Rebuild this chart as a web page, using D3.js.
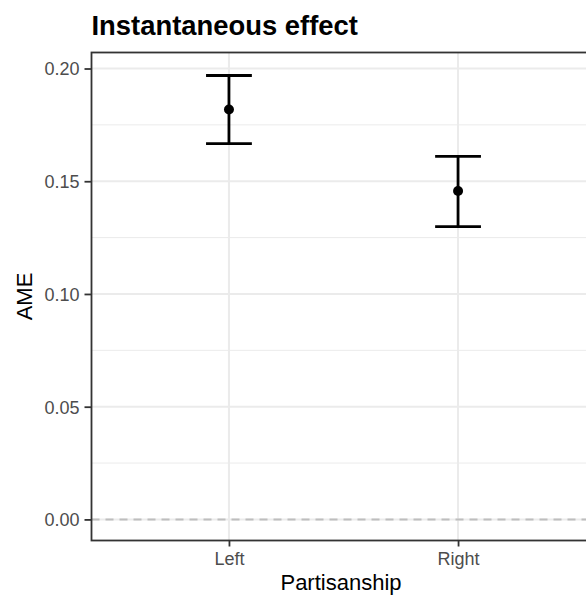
<!DOCTYPE html>
<html><head><meta charset="utf-8">
<script src="https://cdn.jsdelivr.net/npm/d3@7"></script>
<style>body{margin:0;background:#fff}svg{display:block;font-family:"Liberation Sans",Arial,Helvetica,sans-serif}</style>
</head><body><svg id="c" width="586" height="597"></svg>
<script>
const categories = ["Left", "Right"];
const estimates = [0.1818, 0.1457];
const lowers = [0.1667, 0.1299];
const uppers = [0.1969, 0.1610];
const yTicks = [0.00, 0.05, 0.10, 0.15, 0.20];
const yMinor = [0.025, 0.075, 0.125, 0.175];
const title = "Instantaneous effect";
const xTitle = "Partisanship";
const yTitle = "AME";

const svg = d3.select("#c");
const L = 91.5, R = 595.5, T = 52.5, B = 540.5;

const x = d3.scalePoint().domain(categories).range([L, R]).padding(0.6);
const y = d3.scaleLinear().domain([-0.00935, 0.2071]).range([B, T]);

const g = svg.append("g");
g.selectAll(".mn").data(yMinor).enter().append("line")
  .attr("x1", L).attr("x2", R).attr("y1", d => y(d)).attr("y2", d => y(d))
  .attr("stroke", "#EBEBEB").attr("stroke-width", 1);
g.selectAll(".mj").data(yTicks).enter().append("line")
  .attr("x1", L).attr("x2", R).attr("y1", d => y(d)).attr("y2", d => y(d))
  .attr("stroke", "#EBEBEB").attr("stroke-width", 2);
g.selectAll(".vx").data(categories).enter().append("line")
  .attr("x1", d => x(d)).attr("x2", d => x(d)).attr("y1", T).attr("y2", B)
  .attr("stroke", "#EBEBEB").attr("stroke-width", 2);

g.append("line").attr("x1", L).attr("x2", R).attr("y1", y(0)).attr("y2", y(0))
  .attr("stroke", "#BEBEBE").attr("stroke-width", 2).attr("stroke-dasharray", "8,6");

const step = x.step();
const half = step * 0.1;
categories.forEach((c, i) => {
  const cx = x(c);
  g.append("line").attr("x1", cx).attr("x2", cx).attr("y1", y(lowers[i])).attr("y2", y(uppers[i]))
    .attr("stroke", "#000").attr("stroke-width", 2.8);
  [lowers[i], uppers[i]].forEach(v => {
    g.append("line").attr("x1", cx - half).attr("x2", cx + half).attr("y1", y(v)).attr("y2", y(v))
      .attr("stroke", "#000").attr("stroke-width", 2.8);
  });
  g.append("circle").attr("cx", cx).attr("cy", y(estimates[i])).attr("r", 5).attr("fill", "#000");
});

g.append("rect").attr("x", L).attr("y", T).attr("width", R - L).attr("height", B - T)
  .attr("fill", "none").attr("stroke", "#333333").attr("stroke-width", 1.8);

const ya = svg.append("g").attr("transform", `translate(${L},0)`)
  .call(d3.axisLeft(y).tickValues(yTicks).tickFormat(d3.format(".2f")).tickSize(7).tickPadding(5));
const xa = svg.append("g").attr("transform", `translate(0,${B})`)
  .call(d3.axisBottom(x).tickSize(6).tickPadding(5));
[ya, xa].forEach(a => {
  a.attr("font-family", null).attr("font-size", null);
  a.select(".domain").remove();
  a.selectAll(".tick line").attr("stroke", "#333333").attr("stroke-width", 1.8);
  a.selectAll(".tick text").attr("fill", "#4D4D4D").style("font-size", "18px");
});
xa.selectAll(".tick text").attr("dy", null).attr("y", 24.5);
ya.selectAll(".tick text").attr("dy", "0.36em");

svg.append("text").attr("x", L).attr("y", 35).text(title)
  .style("font-size", "27.4px").style("font-weight", "bold").attr("fill", "#000");
svg.append("text").attr("x", 341).attr("y", 590).attr("text-anchor", "middle")
  .text(xTitle).style("font-size", "22px").attr("fill", "#000");
svg.append("text").attr("transform", `translate(32,${(T + B) / 2}) rotate(-90)`)
  .attr("text-anchor", "middle").text(yTitle).style("font-size", "22px").attr("fill", "#000");
</script></body></html>
